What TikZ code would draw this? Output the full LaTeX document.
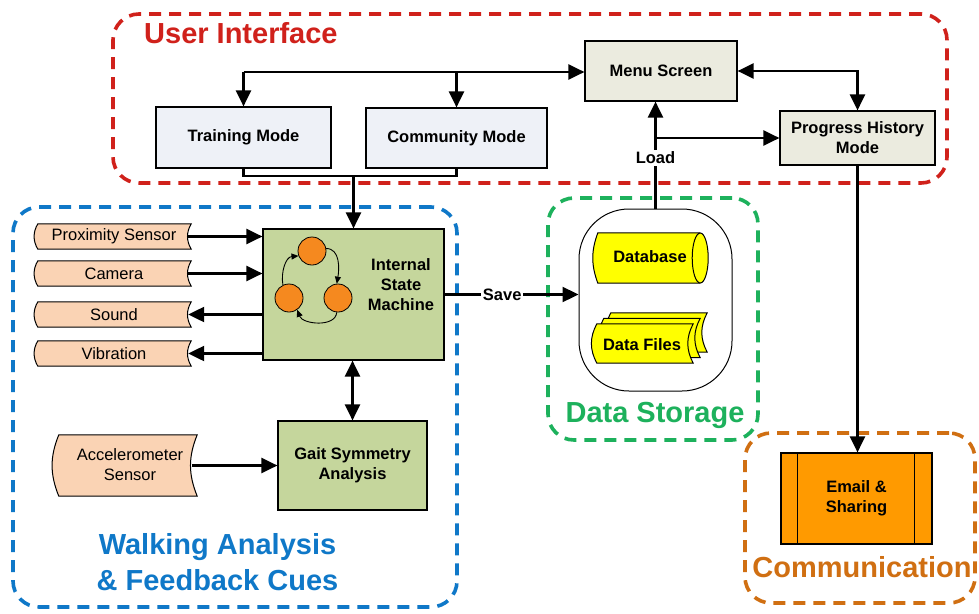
\documentclass[tikz,border=0pt]{standalone}
\usepackage{fontspec}
\setmainfont{Liberation Sans}
\usetikzlibrary{arrows.meta,calc}
\definecolor{uired}{HTML}{D0211B}
\definecolor{wablue}{HTML}{0F78C8}
\definecolor{dsgreen}{HTML}{1DB15C}
\definecolor{comorange}{HTML}{D06F12}
\definecolor{menufill}{HTML}{EBEBDF}
\definecolor{modefill}{HTML}{EEF1F7}
\definecolor{ismfill}{HTML}{C5D69C}
\definecolor{peach}{HTML}{FAD3B4}
\definecolor{emailfill}{HTML}{FF9A00}
\definecolor{statefill}{HTML}{F5891F}
\definecolor{dbyellow}{HTML}{FFFF00}
\newcommand\myboxfont{\fontsize{16.5}{20}\selectfont\bfseries}
\newcommand\mysensfont{\fontsize{16.5}{20}\selectfont}
\newcommand\mytitlefont{\fontsize{29}{36}\selectfont\bfseries}
\newcommand\mystored[3]{\draw[shapeline, fill=#3] (#1.north west) to[bend right=#2] (#1.south west) -- (#1.south east) to[bend left=#2] (#1.north east) -- cycle;}
\begin{document}
\begin{tikzpicture}[x=1pt,y=1pt,
  frame/.style={draw, line width=3.6pt, dash pattern=on 12pt off 8pt, rounded corners=26pt, rectangle, inner sep=0pt},
  box/.style={draw, line width=1.2pt, rectangle, inner sep=0pt, font=\myboxfont, align=center},
  holder/.style={rectangle, inner sep=0pt},
  txt/.style={font=\myboxfont, align=center, inner sep=0pt},
  sens/.style={font=\mysensfont, align=center, inner sep=0pt},
  conn/.style={line width=2.3pt, -{Triangle[length=16pt,width=15pt]}},
  biconn/.style={line width=2.3pt, {Triangle[length=16pt,width=15pt]}-{Triangle[length=16pt,width=15pt]}},
  plainline/.style={line width=2.3pt},
  lbl/.style={fill=white, font=\myboxfont, inner sep=1.5pt},
  title/.style={font=\mytitlefont, align=center, inner sep=0pt},
  state/.style={circle, draw, line width=0.8pt, fill=statefill, minimum size=28pt, inner sep=0pt},
  smallarrow/.style={line width=0.9pt, -{Triangle[length=7pt,width=6pt]}},
  shapeline/.style={line width=1pt}
]
\useasboundingbox[fill=white] (0,0) rectangle (979,-613);

% ---- group frames
\node[frame, draw=uired, minimum width=834, minimum height=169] (ui) at (530,-98.5) {};
\node[frame, draw=wablue, minimum width=444, minimum height=400] (walk) at (235,-407) {};
\node[frame, draw=dsgreen, minimum width=210, minimum height=242] (ds) at (653,-319) {};
\node[frame, draw=comorange, minimum width=230, minimum height=170] (com) at (860,-518) {};

\node[title, text=uired, anchor=base west] (ui-title) at (144,-43) {User Interface};
\node[title, text=wablue] (walk-title) at (217.5,-562) {Walking Analysis\\\& Feedback Cues};
\node[title, text=dsgreen, anchor=base] (ds-title) at (655,-422) {Data Storage};
\node[title, text=comorange, anchor=base] (com-title) at (862,-577) {Communication};

% ---- user interface
\node[box, fill=menufill, minimum width=152, minimum height=60] (menu) at (661,-71) {Menu Screen};
\node[box, fill=modefill, minimum width=175, minimum height=61] (training) at (243.5,-137.5) {Training Mode};
\node[box, fill=modefill, minimum width=181, minimum height=60] (community) at (456.5,-138) {Community Mode};
\node[box, fill=menufill, minimum width=155, minimum height=54] (progress) at (857.5,-138) {Progress History\\Mode};

% ---- walking analysis
\node[box, fill=ismfill, minimum width=181, minimum height=131] (ism) at (353.5,-294.5) {};
\node[txt] (ism-t) at (401,-285) {Internal\\State\\Machine};
\node[state] (s1) at (312,-251) {};
\node[state] (s2) at (289,-298) {};
\node[state] (s3) at (338,-298) {};
\draw[smallarrow] (s2.115) to[out=100,in=185] (s1.200);
\draw[smallarrow] (s1.10) to[out=0,in=80] (s3.95);
\draw[smallarrow] (s3.265) to[out=-95,in=-70] (s2.-55);

\node[box, fill=ismfill, minimum width=149, minimum height=89] (gait) at (352.5,-465.5) {Gait Symmetry\\Analysis};

\node[holder, minimum width=153, minimum height=25] (prox) at (114.5,-236.5) {};
\mystored{prox}{30}{peach}
\node[sens] (prox-t) at (114,-236.5) {Proximity Sensor};
\node[holder, minimum width=153, minimum height=25] (cam) at (114.5,-273.5) {};
\mystored{cam}{30}{peach}
\node[sens] (cam-t) at (114,-273.5) {Camera};
\node[holder, minimum width=153, minimum height=25] (sound) at (114.5,-314.5) {};
\mystored{sound}{30}{peach}
\node[sens] (sound-t) at (114,-314.5) {Sound};
\node[holder, minimum width=153, minimum height=25] (vib) at (114.5,-353.5) {};
\mystored{vib}{30}{peach}
\node[sens] (vib-t) at (114,-353.5) {Vibration};
\node[holder, minimum width=138, minimum height=61] (accel) at (128,-465.5) {};
\mystored{accel}{22}{peach}
\node[sens] (accel-t) at (130,-465) {Accelerometer\\Sensor};

% ---- data storage
\node[draw, line width=1pt, fill=white, rectangle, rounded corners=50pt, minimum width=153, minimum height=182] (oval) at (655.5,-300) {};
\node[holder, minimum width=110, minimum height=50] (db) at (653,-258) {};
\fill[dbyellow] (db.north west) to[bend right=20] (db.south west) -- ([xshift=-8pt]db.south east) -- ([xshift=-8pt]db.north east) -- cycle;
\draw[shapeline] ([xshift=-8pt]db.north east) -- (db.north west) to[bend right=20] (db.south west) -- ([xshift=-8pt]db.south east);
\draw[shapeline, fill=dbyellow] ([xshift=-8pt]db.east) ellipse [x radius=8pt, y radius=25pt];
\node[txt] (db-t) at (650,-257) {Database};

\node[holder, minimum width=96, minimum height=39] (files3) at (659,-332.5) {};
\mystored{files3}{28}{dbyellow}
\node[holder, minimum width=96, minimum height=39] (files2) at (652,-338) {};
\mystored{files2}{28}{dbyellow}
\node[holder, minimum width=96, minimum height=39] (files) at (645,-343.5) {};
\mystored{files}{28}{dbyellow}
\node[txt] (files-t) at (642,-345) {Data Files};

% ---- communication
\node[box, fill=emailfill, minimum width=151, minimum height=91] (email) at (856.5,-498.5) {Email \&\\Sharing};
\draw[shapeline] ([xshift=17pt]email.north west) -- ([xshift=17pt]email.south west);
\draw[shapeline] ([xshift=-18pt]email.north east) -- ([xshift=-18pt]email.south east);

% ---- connectors
\coordinate (tl) at (243.5,-72);
\coordinate (join) at (353.5,-176);
\draw[conn] (tl) -- (menu.west |- tl);
\draw[conn] (tl) -- (training.north);
\draw[conn] (community.north |- tl) -- (community.north);
\draw[biconn] (menu.east) -| (progress.north);
\draw[plainline] (training.south) |- (join) -| (community.south);
\draw[conn] (join) -- (join |- ism.north);

\draw[conn] (oval.north) -- (oval.north |- menu.south);
\draw[conn] (oval.north |- progress.west) -- (progress.west);
\node[lbl] (load) at (655.5,-158) {Load};

\draw[conn] (ism.east) -- node[lbl, pos=0.43] (save) {Save} (ism.east -| oval.west);

\draw[conn, shorten <=-3pt] (prox.east) -- (ism.west |- prox.east);
\draw[conn, shorten <=-3pt] (cam.east) -- (ism.west |- cam.east);
\draw[conn, shorten >=-3pt] (ism.west |- sound.east) -- (sound.east);
\draw[conn, shorten >=-3pt] (ism.west |- vib.east) -- (vib.east);
\draw[biconn] (gait.north |- ism.south) -- (gait.north);
\draw[conn, shorten <=-5pt] (accel.east) -- (gait.west |- accel.east);

\draw[conn] (progress.south) -- (progress.south |- email.north);
\end{tikzpicture}
\end{document}
